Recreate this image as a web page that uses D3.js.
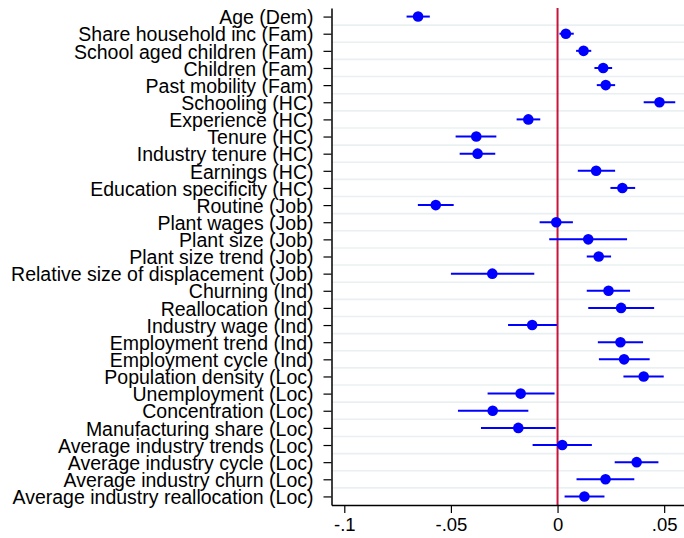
<!DOCTYPE html>
<html>
<head>
<meta charset="utf-8">
<script src="https://cdn.jsdelivr.net/npm/d3@7"></script>
<style>
  body { margin: 0; background: #fff; }
  svg { display: block; font-family: "Liberation Sans", Arial, sans-serif; }
</style>
</head>
<body>
<svg id="chart" width="684" height="538"></svg>
<script>
// coefficient estimates with 95% intervals, top row first
const labels = [
    'Age (Dem)', 'Share household inc (Fam)', 'School aged children (Fam)', 'Children (Fam)',
    'Past mobility (Fam)', 'Schooling (HC)', 'Experience (HC)', 'Tenure (HC)',
    'Industry tenure (HC)', 'Earnings (HC)', 'Education specificity (HC)', 'Routine (Job)',
    'Plant wages (Job)', 'Plant size (Job)', 'Plant size trend (Job)',
    'Relative size of displacement (Job)', 'Churning (Ind)', 'Reallocation (Ind)',
    'Industry wage (Ind)', 'Employment trend (Ind)', 'Employment cycle (Ind)',
    'Population density (Loc)', 'Unemployment (Loc)', 'Concentration (Loc)',
    'Manufacturing share (Loc)', 'Average industry trends (Loc)', 'Average industry cycle (Loc)',
    'Average industry churn (Loc)', 'Average industry reallocation (Loc)'
];
const estimates = [
    -0.0654, 0.0039, 0.0122, 0.0214, 0.0226, 0.0478, -0.0137, -0.0381, -0.0375, 0.0181,
    0.0304, -0.0571, -0.0006, 0.0144, 0.0193, -0.0306, 0.0239, 0.0298, -0.0119, 0.0295,
    0.0312, 0.0404, -0.0173, -0.0304, -0.0184, 0.0022, 0.0371, 0.0225, 0.0126
];
const lower = [
    -0.0708, 0.0009, 0.0087, 0.0173, 0.0184, 0.0404, -0.0192, -0.0478, -0.0459, 0.0095,
    0.0248, -0.0655, -0.0084, -0.0039, 0.0137, -0.0500, 0.0137, 0.0144, -0.0232, 0.0189,
    0.0194, 0.0309, -0.0328, -0.0467, -0.0359, -0.0117, 0.0268, 0.0089, 0.0033
];
const upper = [
    -0.0599, 0.0076, 0.0158, 0.0256, 0.0270, 0.0552, -0.0081, -0.0287, -0.0292, 0.0270,
    0.0364, -0.0487, 0.0072, 0.0326, 0.0251, -0.0109, 0.0340, 0.0453, -0.0003, 0.0401,
    0.0432, 0.0498, -0.0014, -0.0137, -0.0009, 0.0161, 0.0473, 0.0360, 0.0220
];
const xTicks = [-0.1, -0.05, 0, 0.05];
const xTickLabels = ['-.1', '-.05', '0', '.05'];

const svg = d3.select('#chart');
const plotLeft = 331.5, plotRight = 684, plotTop = 8, plotBottom = 505;

const x = d3.scaleLinear().domain([-0.106, 0.0593]).range([plotLeft, plotRight]);
const y = d3.scaleLinear().domain([0.5, labels.length + 0.5]).range([plotTop, plotBottom]);
const rows = d3.range(1, labels.length + 1);

// grid lines between rows
svg.append('g')
    .selectAll('line')
    .data(d3.range(1.5, labels.length, 1))
    .join('line')
    .attr('x1', plotLeft).attr('x2', plotRight)
    .attr('y1', d => y(d)).attr('y2', d => y(d))
    .attr('stroke', '#eaf0f2')
    .attr('stroke-width', 1.6);

// zero reference line
svg.append('line')
    .attr('x1', x(0)).attr('x2', x(0))
    .attr('y1', plotTop).attr('y2', plotBottom)
    .attr('stroke', '#c8143c')
    .attr('stroke-width', 2);

// confidence intervals
svg.append('g')
    .selectAll('line')
    .data(rows)
    .join('line')
    .attr('x1', d => x(lower[d - 1]))
    .attr('x2', d => x(upper[d - 1]))
    .attr('y1', d => y(d)).attr('y2', d => y(d))
    .attr('stroke', '#0000ff')
    .attr('stroke-width', 2);

// point estimates
svg.append('g')
    .selectAll('circle')
    .data(rows)
    .join('circle')
    .attr('cx', d => x(estimates[d - 1]))
    .attr('cy', d => y(d))
    .attr('r', 5.3)
    .attr('fill', '#0000ff');

// y axis
const yAxis = svg.append('g')
    .attr('transform', `translate(${plotLeft},0)`)
    .call(d3.axisLeft(y).tickValues(rows).tickFormat(d => labels[d - 1])
        .tickSize(8).tickPadding(10).tickSizeOuter(0));
yAxis.select('.domain').attr('stroke-width', 1.5);
yAxis.selectAll('.tick line').attr('stroke-width', 1.2);
yAxis.selectAll('.tick text')
    .attr('font-size', 19.5)
    .attr('font-family', '"Liberation Sans", Arial, sans-serif')
    .attr('fill', '#000')
    .attr('dy', '0.37em');

// x axis
const xAxis = svg.append('g')
    .attr('transform', `translate(0,${plotBottom})`)
    .call(d3.axisBottom(x).tickValues(xTicks).tickFormat((d, i) => xTickLabels[i])
        .tickSize(8).tickPadding(5).tickSizeOuter(0));
xAxis.select('.domain').attr('stroke-width', 1.5);
xAxis.selectAll('.tick line').attr('stroke-width', 1.2);
xAxis.selectAll('.tick text')
    .attr('font-size', 18.5)
    .attr('font-family', '"Liberation Sans", Arial, sans-serif')
    .attr('fill', '#000');
</script>
</body>
</html>
